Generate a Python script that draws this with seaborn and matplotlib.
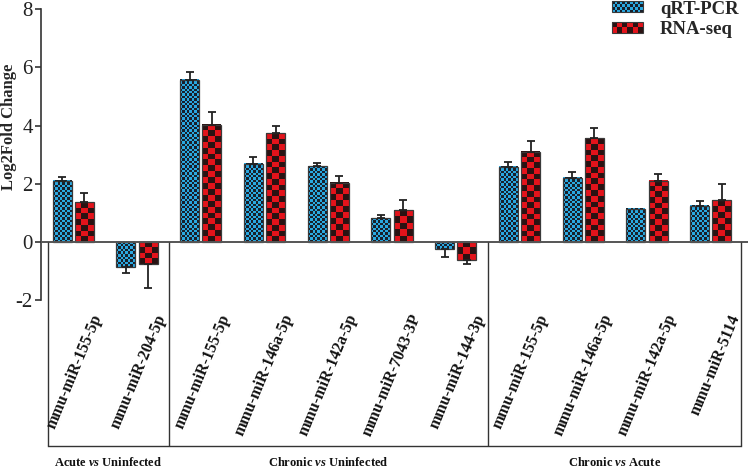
import numpy as np
import pandas as pd
import matplotlib
matplotlib.use("Agg")
import matplotlib.pyplot as plt
import seaborn as sns
from matplotlib.colors import ListedColormap
from matplotlib.patches import Patch, Rectangle
from matplotlib.legend_handler import HandlerBase

# data
groups = ["Acute $\\mathit{vs}$ Uninfected", "Chronic $\\mathit{vs}$ Uninfected", "Chronic $\\mathit{vs}$ Acute"]
mirnas = ["mmu-miR-155-5p", "mmu-miR-204-5p",
          "mmu-miR-155-5p", "mmu-miR-146a-5p", "mmu-miR-142a-5p", "mmu-miR-7043-3P", "mmu-miR-144-3p",
          "mmu-miR-155-5p", "mmu-miR-146a-5p", "mmu-miR-142a-5p", "mmu-miR-5114"]
qpcr = [2.10, -0.86, 5.57, 2.68, 2.60, 0.82, -0.25, 2.58, 2.21, 1.15, 1.24]
qpcr_err = [0.13, 0.20, 0.26, 0.25, 0.11, 0.11, 0.25, 0.16, 0.19, 0.0, 0.16]
rnaseq = [1.37, -0.75, 4.03, 3.73, 2.04, 1.09, -0.62, 3.10, 3.56, 2.10, 1.44]
rnaseq_err = [0.33, 0.82, 0.44, 0.25, 0.24, 0.36, 0.14, 0.38, 0.34, 0.24, 0.54]
methods = ["qRT-PCR", "RNA-seq"]

# colours: base, dark checker, checker size in px
styles = {"qRT-PCR": ("#2aa8e0", "#18202c", 2.4),
          "RNA-seq": ("#e3131b", "#2a1212", 5.8)}

sns.set_style("ticks")
plt.rcParams["font.family"] = ["Liberation Serif", "DejaVu Serif"]
plt.rcParams["axes.unicode_minus"] = False
plt.rcParams["mathtext.fontset"] = "custom"
plt.rcParams["mathtext.it"] = "Liberation Serif:italic:bold"
plt.rcParams["mathtext.rm"] = "Liberation Serif:bold"

keys = [f"{i}" for i in range(len(mirnas))]
df = pd.DataFrame({
    "key": keys * 2,
    "value": qpcr + rnaseq,
    "err": qpcr_err + rnaseq_err,
    "method": ["qRT-PCR"] * len(keys) + ["RNA-seq"] * len(keys),
})

fig = plt.figure(figsize=(7.48, 4.70), dpi=100)
ax = fig.add_axes([41 / 748, 24 / 470, 707 / 748, 437 / 470])

sns.barplot(data=df, x="key", y="value", hue="method", order=keys, hue_order=methods,
            width=0.7, gap=0.15, errorbar=None, legend=False, ax=ax)

xlim = (-0.505, 10.585)
ylim = (-7, 8)
ax.set_xlim(*xlim)
ax.set_ylim(*ylim)
sx = 707 / (xlim[1] - xlim[0])
sy = 437 / (ylim[1] - ylim[0])

# checkerboard fill for each bar + one-sided error bars
for container, method in zip(ax.containers, methods):
    base, dark, cell = styles[method]
    cmap = ListedColormap([base, dark])
    sub = df[df["method"] == method].reset_index(drop=True)
    for i, patch in enumerate(container.patches):
        x0, w = patch.get_x(), patch.get_width()
        y0, h = patch.get_y(), patch.get_height()
        lo, hi = min(y0, y0 + h), max(y0, y0 + h)
        ncol = max(1, int(round(w * sx / cell)))
        nrow = max(1, int(round((hi - lo) * sy / cell)))
        arr = np.indices((nrow, ncol)).sum(0) % 2
        ax.imshow(arr, cmap=cmap, vmin=0, vmax=1, extent=(x0, x0 + w, lo, hi),
                  origin="upper" if h < 0 else "lower", aspect="auto",
                  interpolation="nearest", zorder=1.5)
        patch.set_facecolor("none")
        patch.set_edgecolor("#3a3a3a")
        patch.set_linewidth(0.9)
        patch.set_zorder(2)
        v, e = sub.loc[i, "value"], sub.loc[i, "err"]
        if e > 0:
            yerr = [[0], [e]] if v >= 0 else [[e], [0]]
            ax.errorbar(x0 + w / 2, v, yerr=yerr, fmt="none", ecolor="#222222",
                        elinewidth=1.3, capsize=3.2, capthick=1.3, zorder=2.5)

ax.set_xlim(*xlim)
ax.set_ylim(*ylim)

ax.axhline(0, color="#555555", lw=1.4, zorder=3)

# group boxes below the axis
bounds = [-0.4, 1.5, 6.5, 10.47]
ax.vlines(bounds, ylim[0], 0, color="#333333", lw=1.0, zorder=3)
for sp in ["top", "right"]:
    ax.spines[sp].set_visible(False)
ax.spines["bottom"].set_bounds(bounds[0], bounds[-1])
ax.spines["bottom"].set_color("#333333")
ax.spines["bottom"].set_linewidth(1.0)
ax.spines["left"].set_bounds(-2, 8)
ax.spines["left"].set_color("#333333")
ax.spines["left"].set_linewidth(1.2)

ax.set_yticks([-2, 0, 2, 4, 6, 8])
ax.tick_params(axis="y", direction="out", length=4, width=1.2, labelsize=15, pad=2,
               color="#333333", labelcolor="#222222")
ax.tick_params(axis="x", bottom=False, labelbottom=False)
ax.set_xlabel("")
ax.set_ylabel("Log2Fold Change", fontsize=12, fontweight="bold")
ax.yaxis.set_label_coords(-0.0335, 0.73)

for i, name in enumerate(mirnas):
    ax.text(i + 0.39, -2.5, name, rotation=67.5, rotation_mode="anchor",
            ha="right", va="center", fontsize=11.5, fontweight="bold", color="#111111")

for k, g in enumerate(groups):
    ax.text((bounds[k] + bounds[k + 1]) / 2, -7.55, g, ha="center", va="center",
            fontsize=9, fontweight="bold", color="#111111", clip_on=False)


class CheckerHandler(HandlerBase):
    def __init__(self, base, dark, ncol, nrow):
        super().__init__()
        self.base, self.dark, self.ncol, self.nrow = base, dark, ncol, nrow

    def create_artists(self, legend, orig_handle, xdescent, ydescent, width, height, fontsize, trans):
        x, y = -xdescent, -ydescent
        arts = [Rectangle((x, y), width, height, facecolor=self.base, edgecolor="none", transform=trans)]
        cw, ch = width / self.ncol, height / self.nrow
        for r in range(self.nrow):
            for c in range(self.ncol):
                if (r + c) % 2:
                    arts.append(Rectangle((x + c * cw, y + r * ch), cw, ch, facecolor=self.dark,
                                          edgecolor="none", transform=trans))
        arts.append(Rectangle((x, y), width, height, facecolor="none", edgecolor="#3a3a3a",
                              lw=0.8, transform=trans))
        return arts


handles = [Patch(label=m) for m in methods]
hmap = {handles[0]: CheckerHandler(styles["qRT-PCR"][0], styles["qRT-PCR"][1], 12, 4),
        handles[1]: CheckerHandler(styles["RNA-seq"][0], styles["RNA-seq"][1], 6, 2)}
leg = fig.legend(handles=handles, handler_map=hmap, loc="upper left",
                 bbox_to_anchor=(612 / 748, 1 - 0.5 / 470), frameon=False,
                 borderpad=0, borderaxespad=0, handlelength=1.65, handleheight=0.53,
                 handletextpad=0.9, labelspacing=0.18,
                 prop={"family": "Liberation Serif", "weight": "bold", "size": 13.5})

fig.savefig("out.png", dpi=100)
